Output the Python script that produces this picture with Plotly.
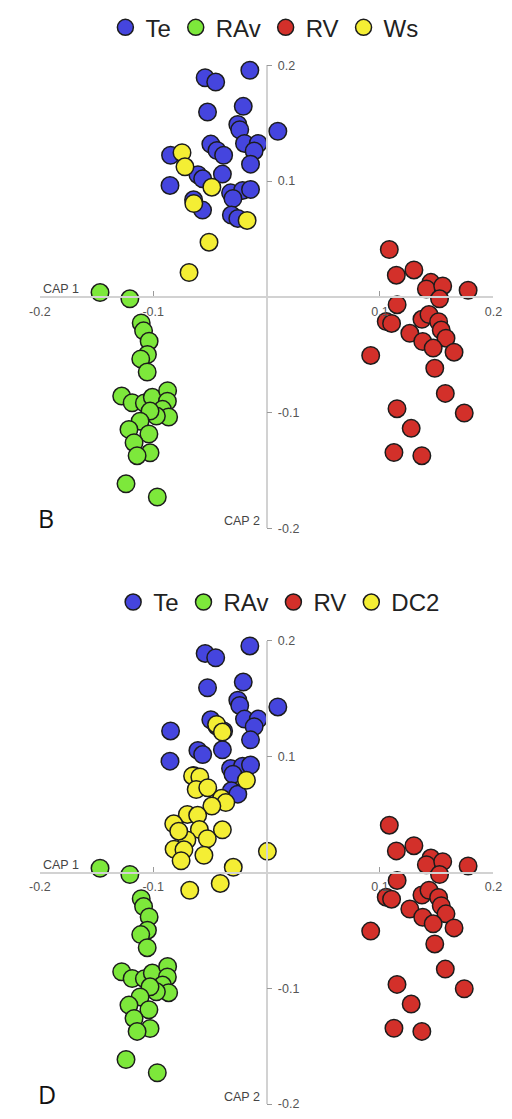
import plotly.graph_objects as go

# ---------------- data ----------------
te_x = [-0.0542, -0.0449, -0.0148, -0.0521, -0.0206, -0.0254, -0.0237, 0.0099,
        -0.0492, -0.0438, -0.0379, -0.0195, -0.0074, -0.0110, -0.0142, -0.0847,
        -0.0606, -0.0564, -0.0390, -0.0852, -0.0318, -0.0212, -0.0142, -0.0297,
        -0.0644, -0.0565, -0.0311, -0.0254]
te_y = [0.1892, 0.1855, 0.1957, 0.1596, 0.1645, 0.1489, 0.1443, 0.1430,
        0.1319, 0.1264, 0.1223, 0.1325, 0.1325, 0.1260, 0.1146, 0.1223,
        0.1055, 0.1019, 0.1060, 0.0962, 0.0898, 0.0919, 0.0928, 0.0849,
        0.0838, 0.0749, 0.0706, 0.0677]

rav_x = [-0.1469, -0.1206, -0.1106, -0.1085, -0.1036, -0.1051, -0.1110, -0.1053,
         -0.1278, -0.1186, -0.1078, -0.1008, -0.0873, -0.0875, -0.0918, -0.0864,
         -0.0972, -0.1028, -0.1116, -0.1214, -0.1038, -0.1169, -0.1028, -0.1142,
         -0.1240, -0.0964]
rav_y = [0.0037, -0.0017, -0.0226, -0.0294, -0.0383, -0.0498, -0.0536, -0.0649,
         -0.0857, -0.0915, -0.0917, -0.0868, -0.0811, -0.0902, -0.0972, -0.1038,
         -0.1030, -0.0987, -0.1074, -0.1145, -0.1185, -0.1260, -0.1347, -0.1372,
         -0.1615, -0.1729]

rv_x = [0.1082, 0.1144, 0.1299, 0.1449, 0.1409, 0.1553, 0.1525, 0.1777,
        0.1151, 0.1055, 0.1102, 0.1370, 0.1432, 0.1517, 0.1540, 0.1582,
        0.1263, 0.1377, 0.1469, 0.1653, 0.0918, 0.1483, 0.1576, 0.1150,
        0.1743, 0.1275, 0.1123, 0.1369]
rv_y = [0.0409, 0.0187, 0.0232, 0.0125, 0.0068, 0.0094, -0.0017, 0.0057,
        -0.0068, -0.0213, -0.0230, -0.0194, -0.0153, -0.0215, -0.0287, -0.0357,
        -0.0315, -0.0386, -0.0443, -0.0478, -0.0506, -0.0617, -0.0834, -0.0966,
        -0.1004, -0.1136, -0.1345, -0.1372]

ws_x = [-0.0746, -0.0720, -0.0483, -0.0642, -0.0172, -0.0508, -0.0684]
ws_y = [0.1245, 0.1123, 0.0947, 0.0806, 0.0660, 0.0472, 0.0210]

dc2_x = [-0.0441, -0.0390, -0.0178, -0.0653, -0.0589, -0.0621, -0.0519, -0.0398,
         -0.0360, -0.0483, -0.0699, -0.0608, -0.0819, -0.0593, -0.0390, -0.0703,
         -0.0523, -0.0816, -0.0729, -0.0553, -0.0754, 0.0007, -0.0294, -0.0409,
         -0.0678, -0.0775]
dc2_y = [0.1279, 0.1213, 0.0797, 0.0834, 0.0826, 0.0717, 0.0732, 0.0641,
         0.0604, 0.0574, 0.0502, 0.0494, 0.0421, 0.0372, 0.0369, 0.0281,
         0.0292, 0.0202, 0.0196, 0.0149, 0.0102, 0.0183, 0.0045, -0.0094,
         -0.0153, 0.0357]

x_tickvals = [-0.2, -0.1, 0.1, 0.2]
x_ticktext = ["-0.2", "-0.1", "0.1", "0.2"]
y_tickvals = [0.2, 0.1, -0.1, -0.2]
y_ticktext = ["0.2", "0.1", "-0.1", "-0.2"]

group_colors = {"Te": "#4545DE", "RAv": "#7DE83B", "RV": "#D3302A",
                "Ws": "#F4EE34", "DC2": "#F4EE34"}

W, H = 512, 1119
FONT = "Liberation Sans, Arial, sans-serif"

fig = go.Figure()


def add_group(name, xs, ys, xa, ya, legend):
    fig.add_trace(go.Scatter(
        x=xs, y=ys, mode="markers", name=name,
        xaxis=xa, yaxis=ya, legend=legend, cliponaxis=False,
        marker=dict(size=17.5, color=group_colors[name],
                    line=dict(color="#1c1c1c", width=1.5)),
    ))


# panel B
add_group("Te", te_x, te_y, "x", "y", "legend")
add_group("RAv", rav_x, rav_y, "x", "y", "legend")
add_group("RV", rv_x, rv_y, "x", "y", "legend")
add_group("Ws", ws_x, ws_y, "x", "y", "legend")
# panel D
add_group("Te", te_x, te_y, "x2", "y2", "legend2")
add_group("RAv", rav_x, rav_y, "x2", "y2", "legend2")
add_group("RV", rv_x, rv_y, "x2", "y2", "legend2")
add_group("DC2", dc2_x, dc2_y, "x2", "y2", "legend2")

# domains (pixel-derived)
xdom = [30 / W, 502 / W]
ydom_B = [1 - 528 / H, 1 - 59 / H]
ydom_D = [1 - 1111 / H, 1 - 642 / H]
x_zero = (xdom[0] + xdom[1]) / 2
yB_zero = (ydom_B[0] + ydom_B[1]) / 2
yD_zero = (ydom_D[0] + ydom_D[1]) / 2

axis_line = dict(showline=True, linecolor="#d2d2d2", linewidth=1.5,
                 showgrid=False, zeroline=False, tickcolor="#9a9a9a",
                 tickwidth=1.2, ticklen=5,
                 tickfont=dict(family=FONT, size=12.5, color="#555555"),
                 range=[-0.2, 0.2], fixedrange=True)


def xaxis_cfg(pos):
    return dict(axis_line, domain=xdom, anchor="free", position=pos,
                side="bottom", ticks="inside", tickvals=x_tickvals,
                ticktext=x_ticktext, ticklabelstandoff=3)


def yaxis_cfg(dom):
    return dict(axis_line, domain=dom, anchor="free", position=x_zero,
                side="right", ticks="outside", tickvals=y_tickvals,
                ticktext=y_ticktext, ticklabelstandoff=3)


legend_cfg = dict(orientation="h", xanchor="center", yanchor="middle",
                  font=dict(family=FONT, size=24, color="#222222"),
                  bgcolor="rgba(0,0,0,0)", itemclick=False,
                  itemdoubleclick=False, tracegroupgap=0)

fig.update_layout(
    width=W, height=H,
    margin=dict(l=0, r=0, t=0, b=0),
    paper_bgcolor="white", plot_bgcolor="white",
    xaxis=xaxis_cfg(yB_zero),
    yaxis=yaxis_cfg(ydom_B),
    xaxis2=xaxis_cfg(yD_zero),
    yaxis2=yaxis_cfg(ydom_D),
    legend=dict(legend_cfg, x=0.515, y=1 - 21 / H),
    legend2=dict(legend_cfg, x=0.545, y=1 - 603 / H),
    showlegend=True,
)

small = dict(family=FONT, size=12.5, color="#444444")
for xr, yr, letter in [("x", "y", "B"), ("x2", "y2", "D")]:
    fig.add_annotation(x=-0.2, y=0, xref=xr, yref=yr, text="CAP 1",
                       showarrow=False, xanchor="left", yanchor="bottom",
                       xshift=1, yshift=-1, font=small)
    fig.add_annotation(x=0, y=-0.2, xref=xr, yref=yr, text="CAP 2",
                       showarrow=False, xanchor="right", yanchor="middle",
                       xshift=-5, yshift=7, font=small)
    fig.add_annotation(x=-0.2, y=-0.2, xref=xr, yref=yr, text=letter,
                       showarrow=False, xanchor="left", yanchor="bottom",
                       xshift=-4, yshift=-9,
                       font=dict(family="Open Sans, sans-serif", size=25,
                                 color="#111111"))

fig.write_html("out.html")
